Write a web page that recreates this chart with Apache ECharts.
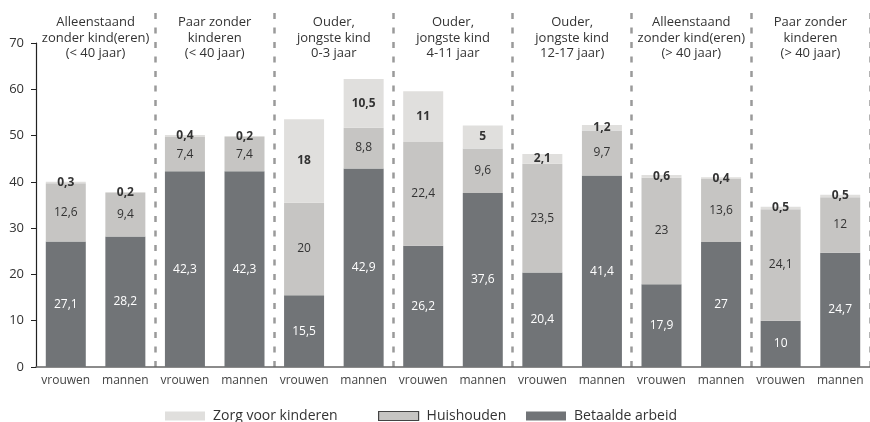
<!DOCTYPE html>
<html>
<head>
<meta charset="utf-8">
<script src="https://cdn.jsdelivr.net/npm/echarts@6/dist/echarts.min.js"></script>
<style>html,body{margin:0;padding:0;background:#fff}#c{width:870px;height:422px}</style>
</head>
<body>
<div id="c"></div>
<script>
const groupTitles = [
  'Alleenstaand\nzonder kind(eren)\n(< 40 jaar)',
  'Paar zonder\nkinderen\n(< 40 jaar)',
  'Ouder,\njongste kind\n0-3 jaar',
  'Ouder,\njongste kind\n4-11 jaar',
  'Ouder,\njongste kind\n12-17 jaar)',
  'Alleenstaand\nzonder kind(eren)\n(> 40 jaar)',
  'Paar zonder\nkinderen\n(> 40 jaar)'
];
const categories = ['vrouwen','mannen','vrouwen','mannen','vrouwen','mannen','vrouwen','mannen','vrouwen','mannen','vrouwen','mannen','vrouwen','mannen'];
const betaaldeArbeid = [27.1, 28.2, 42.3, 42.3, 15.5, 42.9, 26.2, 37.6, 20.4, 41.4, 17.9, 27, 10, 24.7];
const huishouden     = [12.6, 9.4, 7.4, 7.4, 20, 8.8, 22.4, 9.6, 23.5, 9.7, 23, 13.6, 24.1, 12];
const zorgKinderen   = [0.3, 0.2, 0.4, 0.2, 18, 10.5, 11, 5, 2.1, 1.2, 0.6, 0.4, 0.5, 0.5];
const yTicks = [0, 10, 20, 30, 40, 50, 60, 70];

const FONT = 'Open Sans';
const fmt = p => String(p.value).replace('.', ',');
const chart = echarts.init(document.getElementById('c'));
chart.setOption({
  animation: false,
  textStyle: { fontFamily: FONT },
  grid: [
    { left: 36, right: -6, top: 43, bottom: 55, containLabel: false },
    { left: 36, right: -6, top: 13, bottom: 55, containLabel: false }
  ],
  legend: [
    { data: ['Zorg voor kinderen'], left: 160, top: 404, itemWidth: 40, itemHeight: 9, icon: 'rect',
      textStyle: { fontSize: 14, color: '#333', fontFamily: FONT, padding: [0,0,0,3] } },
    { data: [{ name: 'Huishouden', itemStyle: { borderColor: '#444', borderWidth: 1.2 } }], left: 373, top: 404, itemWidth: 40, itemHeight: 9, icon: 'rect',
      textStyle: { fontSize: 14, color: '#333', fontFamily: FONT, padding: [0,0,0,3] } },
    { data: ['Betaalde arbeid'], left: 521, top: 404, itemWidth: 40, itemHeight: 9, icon: 'rect',
      textStyle: { fontSize: 14, color: '#333', fontFamily: FONT, padding: [0,0,0,3] } }
  ],
  xAxis: [
    { type: 'category', gridIndex: 0, data: categories,
      axisLine: { lineStyle: { color: '#666', width: 1.5 } },
      axisTick: { show: false },
      axisLabel: { color: '#444', fontSize: 12, margin: 8, interval: 0, fontFamily: FONT } },
    { type: 'category', gridIndex: 1, position: 'top', data: groupTitles,
      axisLine: { show: false }, axisTick: { show: false },
      axisLabel: { color: '#333', fontSize: 13, lineHeight: 15.5, margin: -2, verticalAlign: 'top', interval: 0, fontFamily: FONT },
      splitLine: { show: true, interval: (i) => i > 0 && i < groupTitles.length,
        lineStyle: { color: '#9a9a9a', width: 2.5, type: [6, 8.5] } } }
  ],
  yAxis: [
    { type: 'value', gridIndex: 0, min: yTicks[0], max: yTicks[yTicks.length - 1], interval: 10,
      axisLine: { show: true, lineStyle: { color: '#222', width: 1.2 } },
      axisTick: { show: true, length: 5, lineStyle: { color: '#222' } },
      axisLabel: { color: '#333', fontSize: 13, margin: 12, fontFamily: FONT },
      splitLine: { show: false } },
    { type: 'value', gridIndex: 1, min: 0, max: 1, show: false, splitLine: { show: false } }
  ],
  series: [
    { name: 'Betaalde arbeid', type: 'bar', stack: 'a', barWidth: 40, data: betaaldeArbeid,
      itemStyle: { color: '#717477' },
      label: { show: true, position: 'inside', color: '#fff', fontSize: 12, formatter: fmt, fontFamily: FONT } },
    { name: 'Huishouden', type: 'bar', stack: 'a', barWidth: 40, data: huishouden,
      itemStyle: { color: '#c6c5c3' },
      label: { show: true, position: 'inside', color: '#333', fontSize: 12, formatter: fmt, fontFamily: FONT } },
    { name: 'Zorg voor kinderen', type: 'bar', stack: 'a', barWidth: 40, data: zorgKinderen,
      itemStyle: { color: '#e0dfdd' },
      label: { show: true, position: 'inside', color: '#333', fontSize: 12, fontWeight: 'bold', formatter: fmt, fontFamily: FONT } }
  ]
});
</script>
</body>
</html>
